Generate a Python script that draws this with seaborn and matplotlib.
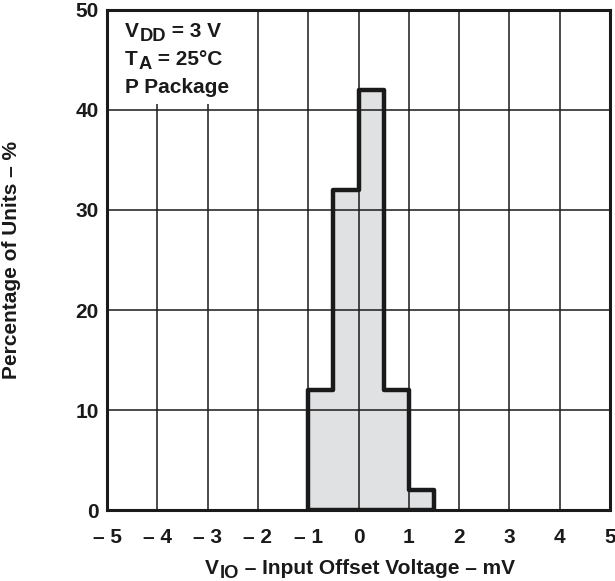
import numpy as np
import seaborn as sns
import matplotlib.pyplot as plt
from matplotlib.patches import Rectangle
import pandas as pd

# histogram data (bin centres in mV, percentage of units)
bin_centers = [-0.75, -0.25, 0.25, 0.75, 1.25]
percent = [12, 32, 42, 12, 2]
bin_edges = [-1.0, -0.5, 0.0, 0.5, 1.0, 1.5]
x_ticks = [-5, -4, -3, -2, -1, 0, 1, 2, 3, 4, 5]
x_tick_labels = ['– 5', '– 4', '– 3', '– 2', '– 1', '0', '1', '2', '3', '4', '5']
y_ticks = [0, 10, 20, 30, 40, 50]
# (main, subscript, rest) for the conditions note
note_lines = [('V', 'DD', ' = 3 V'), ('T', 'A', ' = 25°C'), ('P Package', '', '')]

df = pd.DataFrame({'vio': bin_centers, 'pct': percent})

sns.set_style('white')
plt.rcParams['font.family'] = ['Liberation Sans', 'DejaVu Sans']
plt.rcParams['font.weight'] = 'bold'

INK = '#1a1a1a'
FS = 15

fig = plt.figure(figsize=(6.15, 5.81), dpi=100)
ax = fig.add_axes([0.174, 0.122, 0.818, 0.861])

sns.histplot(data=df, x='vio', weights='pct', bins=bin_edges, element='step',
             fill=True, color='#e0e1e3', alpha=1, edgecolor=INK,
             linewidth=3.2, ax=ax)
for coll in ax.collections:
    coll.set_zorder(2)
for ln in ax.lines:
    ln.set_zorder(4)

ax.set_xlim(-5, 5)
ax.set_ylim(0, 50)
ax.set_xticks(x_ticks)
ax.set_xticklabels(x_tick_labels)
ax.set_yticks(y_ticks)
ax.grid(True, color=INK, linewidth=1.1)
ax.set_axisbelow(False)
for gl in ax.get_xgridlines() + ax.get_ygridlines():
    gl.set_zorder(2.5)
for s in ax.spines.values():
    s.set_linewidth(2.2)
    s.set_color(INK)
    s.set_zorder(5)
ax.tick_params(axis='x', labelsize=FS, length=0, pad=13)
ax.tick_params(axis='y', labelsize=FS, length=0, pad=6)
for lab in ax.get_xticklabels() + ax.get_yticklabels():
    lab.set_fontweight('bold')
    lab.set_color(INK)
ax.set_xlabel('')
ax.set_ylabel('Percentage of Units – %', fontsize=FS, fontweight='bold', color=INK)
ax.yaxis.set_label_coords(-0.171, 0.5)


def sub_text(x, y, main, sub, rest, coords):
    # text with a near full-size, lowered subscript
    t1 = ax.annotate(main, xy=(x, y), xycoords=coords, fontsize=FS, fontweight='bold',
                     color=INK, ha='left', va='baseline', zorder=6, annotation_clip=False)
    if not sub:
        return
    t2 = ax.annotate(sub, xy=(1, 0), xycoords=t1, xytext=(0.3, -3.0),
                     textcoords='offset points', fontsize=FS * 0.88, fontweight='bold',
                     color=INK, ha='left', va='bottom', zorder=6, annotation_clip=False)
    ax.annotate(rest, xy=(1, 0), xycoords=(t2, t1), fontsize=FS, fontweight='bold',
                color=INK, ha='left', va='bottom', zorder=6, annotation_clip=False)


# x axis label
sub_text(0.195, -0.127, 'V', 'IO', ' – Input Offset Voltage – mV', 'axes fraction')

# white panel behind the conditions note
ax.add_patch(Rectangle((-5, 40.6), 2.95, 9.4, facecolor='white', edgecolor='none', zorder=3))
for i, (main, sub, rest) in enumerate(note_lines):
    sub_text(-4.64, 47.3 - 2.8 * i, main, sub, rest, 'data')

fig.savefig('out.png', dpi=100)
